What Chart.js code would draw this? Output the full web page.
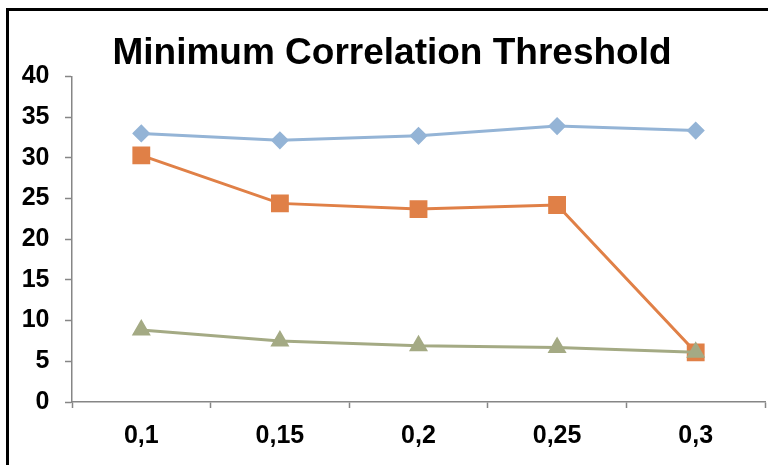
<!DOCTYPE html>
<html>
<head>
<meta charset="utf-8">
<script src="https://cdn.jsdelivr.net/npm/chart.js@4"></script>
<style>
  html, body { margin: 0; padding: 0; background: #fff; overflow: hidden; }
  #frame {
    position: absolute; left: 6px; top: 8px;
    width: 820px; height: 520px;
    border: 3px solid #000;
  }
  #wrap { position: absolute; left: 0; top: 0; width: 768px; height: 465px; }
</style>
</head>
<body>
<div id="frame"></div>
<div id="wrap"><canvas id="chart" width="768" height="465"></canvas></div>
<script>
const thresholds = ["0,1", "0,15", "0,2", "0,25", "0,3"];
const seriesBlue = [33.0, 32.15, 32.7, 33.9, 33.35];
const seriesOrange = [30.3, 24.4, 23.7, 24.2, 6.1];
const seriesGreen = [8.85, 7.5, 6.9, 6.7, 6.1];
const yTicks = [0, 5, 10, 15, 20, 25, 30, 35, 40];

const axisGrey = "#868686";
const font = { family: "'Liberation Sans', Arial, sans-serif", weight: "bold", size: 25 };

new Chart(document.getElementById("chart"), {
  type: "line",
  data: {
    labels: thresholds,
    datasets: [
      {
        data: seriesBlue,
        borderColor: "#94B4D6",
        backgroundColor: "#94B4D6",
        borderWidth: 3,
        pointStyle: "rectRot",
        pointRadius: 7,
        order: 2,
      },
      {
        data: seriesOrange,
        borderColor: "#E08047",
        backgroundColor: "#E08047",
        borderWidth: 3,
        pointStyle: "rect",
        pointRadius: 10.5,
        order: 1,
      },
      {
        data: seriesGreen,
        borderColor: "#A4AA84",
        backgroundColor: "#A4AA84",
        borderWidth: 3,
        pointStyle: "triangle",
        pointRadius: 8,
        order: 0,
      },
    ],
  },
  options: {
    responsive: false,
    animation: false,
    events: [],
    layout: { autoPadding: false, padding: { left: 19, right: 3, top: 0, bottom: 0 } },
    plugins: {
      legend: { display: false },
      tooltip: { enabled: false },
      title: {
        display: true,
        text: "Minimum Correlation Threshold",
        color: "#000",
        font: { family: font.family, weight: "bold", size: 37, lineHeight: 1.2 },
        padding: { top: 32, bottom: 0 },
      },
    },
    scales: {
      x: {
        offset: true,
        grid: {
          offset: true,
          drawOnChartArea: false,
          drawTicks: true,
          tickLength: 6,
          tickColor: axisGrey,
          tickWidth: 1.5,
        },
        border: { color: axisGrey, width: 1.5 },
        ticks: { color: "#000", font: font, padding: 13, maxRotation: 0 },
        afterFit: (scale) => {
          scale.height = 63;
          scale.paddingLeft = 0;
          scale.paddingRight = 0;
        },
      },
      y: {
        min: 0,
        max: 40,
        afterBuildTicks: (scale) => { scale.ticks = yTicks.map((v) => ({ value: v })); },
        grid: {
          drawOnChartArea: false,
          drawTicks: true,
          tickLength: 7,
          tickColor: axisGrey,
          tickWidth: 1.5,
        },
        border: { color: axisGrey, width: 1.5 },
        ticks: { color: "#000", font: font, padding: 15.5 },
        afterFit: (scale) => {
          scale.width = 53;
          scale.paddingTop = 0;
          scale.paddingBottom = 0;
        },
      },
    },
  },
});
</script>
</body>
</html>
